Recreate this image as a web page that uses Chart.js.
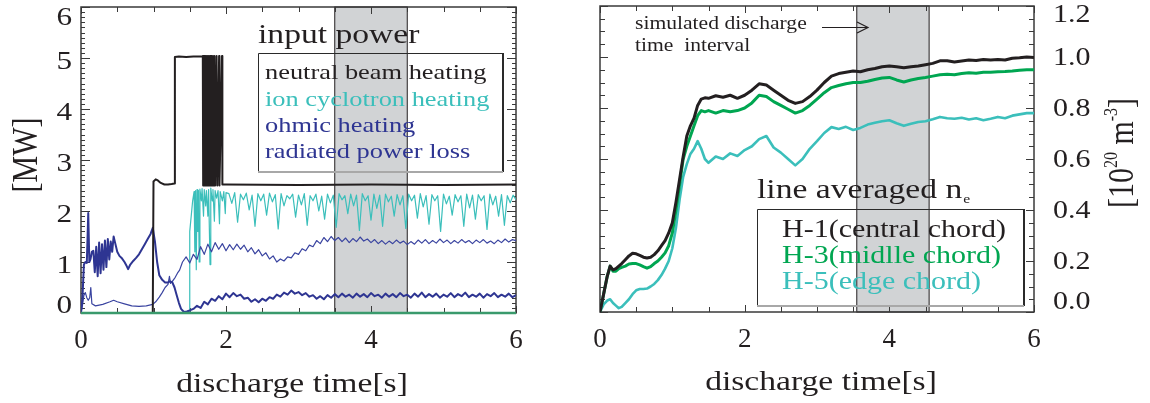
<!DOCTYPE html>
<html><head><meta charset="utf-8">
<script src="https://cdn.jsdelivr.net/npm/chart.js@4.4.1/dist/chart.umd.min.js"></script>
<style>
html,body{margin:0;padding:0;background:#fff;width:1150px;height:403px;overflow:hidden}
#c1{position:absolute;left:0;top:0;width:560px;height:403px}
#c2{position:absolute;left:560px;top:0;width:590px;height:403px}
</style></head><body>
<canvas id="c1" width="560" height="403"></canvas>
<canvas id="c2" width="590" height="403"></canvas>
<script>
// ---------------- LEFT PANEL DATA (input power, MW) ----------------
const leftXTicks = [0, 2, 4, 6];
const leftYTicks = [0, 1, 2, 3, 4, 5, 6];
const leftBand = [3.5, 4.5];
const leftLegend = ['neutral beam heating', 'ion cyclotron heating', 'ohmic heating', 'radiated power loss'];

const baseT = [0, 6];
const baseV = [0, 0];

const nbT = [0, 0.99, 1.0, 1.03, 1.06, 1.1, 1.15, 1.2, 1.25, 1.29, 1.295, 1.35, 1.45, 1.55, 1.67,
  1.68, 1.685, 1.69, 1.695, 1.70, 1.705, 1.71, 1.715, 1.72, 1.727, 1.735, 1.742, 1.75, 1.757, 1.765, 1.772,
  1.78, 1.79, 1.80, 1.81, 1.82, 1.83, 1.84, 1.85, 1.87, 1.88, 1.905, 1.91, 1.945, 1.95, 2.0, 3.0, 4.0, 5.0, 6.0];
const nbV = [0, 0, 2.58, 2.62, 2.6, 2.55, 2.52, 2.52, 2.53, 2.54, 5.02, 5.03, 5.02, 5.03, 5.03,
  5.04, 2.5, 5.04, 2.5, 5.04, 2.5, 5.04, 2.5, 5.04, 2.5, 5.04, 2.5, 5.04, 2.5, 5.04, 2.5,
  5.04, 2.5, 5.04, 2.5, 5.04, 2.5, 5.04, 2.5, 5.04, 2.5, 5.04, 2.5, 5.04, 2.52, 2.52, 2.51, 2.52, 2.51, 2.52];

const icT = [0, 1.495, 1.5, 1.52, 1.54, 1.56, 1.57, 1.58, 1.59, 1.6, 1.61, 1.62, 1.63, 1.64, 1.66, 1.67, 1.69, 1.7,
  1.72, 1.73, 1.75, 1.76, 1.78, 1.79, 1.81, 1.82, 1.84, 1.85, 1.87, 1.89, 1.91, 1.92, 1.95, 1.97, 1.99, 2.0,
  2.04,2.08,2.12,2.16,2.2,2.24,2.28,2.32,2.36,2.4,2.44,2.48,2.52,2.56,2.6,2.64,2.68,2.72,2.76,2.8,
  2.84,2.88,2.92,2.96,3.0,3.04,3.08,3.12,3.16,3.2,3.24,3.28,3.32,3.36,3.4,3.44,3.48,3.52,3.56,3.6,
  3.64,3.68,3.72,3.76,3.8,3.84,3.88,3.92,3.96,4.0,4.04,4.08,4.12,4.16,4.2,4.24,4.28,4.32,4.36,4.4,
  4.44,4.48,4.52,4.56,4.6,4.64,4.68,4.72,4.76,4.8,4.84,4.88,4.92,4.96,5.0,5.04,5.08,5.12,5.16,5.2,
  5.24,5.28,5.32,5.36,5.4,5.44,5.48,5.52,5.56,5.6,5.64,5.68,5.72,5.76,5.8,5.84,5.88,5.92,5.96,6.0];
const icV = [0, 0, 1.6, 1.9, 2.2, 2.38, 1.2, 2.4, 0.85, 2.42, 1.6, 2.4, 1.0, 2.43, 2.2, 2.44, 1.9, 2.42,
  2.1, 2.4, 1.9, 2.42, 0.95, 2.45, 2.2, 2.42, 1.8, 2.4, 2.25, 2.4, 1.75, 2.38, 2.2, 2.38, 1.95, 2.36,
  2.34,2.15,2.36,1.78,2.33,2.22,2.35,2.02,2.31,1.7,2.34,2.2,2.33,1.92,2.35,2.18,2.32,1.65,2.34,2.1,
  2.3,2.24,2.33,1.88,2.31,2.12,2.34,1.72,2.3,2.2,2.33,2.0,2.29,1.84,2.33,2.16,2.31,1.68,2.34,2.22,
  2.3,1.95,2.33,2.1,2.31,1.62,2.34,2.2,2.3,1.82,2.33,2.05,2.31,1.7,2.33,2.18,2.29,1.9,2.32,2.12,
  2.3,1.66,2.33,2.2,2.31,1.86,2.34,2.08,2.3,1.74,2.32,2.2,2.3,1.6,2.33,2.14,2.29,1.92,2.32,2.18,
  2.3,1.7,2.33,2.06,2.31,1.84,2.32,2.2,2.3,1.64,2.33,2.12,2.29,1.9,2.32,1.72,2.3,2.16,2.31,2.22];

const ohEarlyT = [0,0.02,0.04,0.06,0.08,0.1,0.115,0.13,0.15,0.17,0.19,0.21,0.23,0.25,0.27,0.29,0.31,0.33,0.35,0.37,
  0.39,0.41,0.43,0.45,0.47,0.5,0.53,0.56,0.6,0.63,0.65,0.68,0.72,0.76,0.8,0.84,0.88,0.92,0.96,0.99,
  1.02,1.05,1.08,1.12,1.16,1.2,1.23,1.26,1.29,1.32,1.35,1.38,1.42,1.46,1.5];
const ohEarlyV = [0,0.3,0.95,1.0,0.98,1.96,1.0,1.05,1.2,1.22,0.8,1.3,0.72,1.38,0.78,1.35,0.85,1.42,0.9,1.45,
  1.05,1.4,1.2,1.5,1.38,1.2,1.12,1.08,1.0,0.92,0.86,0.95,1.02,1.08,1.15,1.25,1.35,1.45,1.55,1.67,
  1.4,1.0,0.74,0.65,0.6,0.6,0.62,0.6,0.5,0.35,0.2,0.08,0.02,0.03,0.05];

const radEarlyT = [0,0.02,0.04,0.06,0.08,0.1,0.12,0.135,0.15,0.2,0.3,0.4,0.45,0.5,0.6,0.7,0.8,0.9,0.99,
  1.03,1.08,1.12,1.16,1.2,1.22,1.235,1.26,1.3,1.33,1.36,1.4,1.45,1.5];
const radEarlyV = [0,0.15,0.35,0.4,0.3,0.25,0.3,0.5,0.18,0.14,0.17,0.22,0.25,0.22,0.18,0.14,0.13,0.14,0.17,
  0.22,0.31,0.4,0.5,0.56,0.72,0.58,0.62,0.7,0.78,0.84,1.0,1.1,0.98];

const lateT = [1.55,1.6,1.65,1.7,1.75,1.8,1.85,1.9,1.95,2.0, 2.05,2.1,2.15,2.2,2.25,2.3,2.35,2.4,2.45,2.5,
  2.55,2.6,2.65,2.7,2.75,2.8,2.85,2.9,2.95,3.0, 3.05,3.1,3.15,3.2,3.25,3.3,3.35,3.4,3.45,3.5,
  3.55,3.6,3.65,3.7,3.75,3.8,3.85,3.9,3.95,4.0, 4.05,4.1,4.15,4.2,4.25,4.3,4.35,4.4,4.45,4.5,
  4.55,4.6,4.65,4.7,4.75,4.8,4.85,4.9,4.95,5.0, 5.05,5.1,5.15,5.2,5.25,5.3,5.35,5.4,5.45,5.5,
  5.55,5.6,5.65,5.7,5.75,5.8,5.85,5.9,5.95,6.0];
const ohLateV = [0.08,0.14,0.1,0.22,0.17,0.28,0.24,0.33,0.27,0.38, 0.31,0.39,0.33,0.36,0.28,0.3,0.22,0.27,0.21,0.28,
  0.24,0.31,0.28,0.36,0.32,0.4,0.36,0.44,0.38,0.41, 0.35,0.39,0.32,0.35,0.28,0.33,0.27,0.35,0.3,0.37,
  0.31,0.38,0.32,0.36,0.3,0.38,0.32,0.37,0.31,0.39, 0.33,0.36,0.3,0.38,0.32,0.37,0.31,0.39,0.33,0.36,
  0.3,0.38,0.32,0.4,0.31,0.37,0.32,0.38,0.3,0.36, 0.32,0.39,0.31,0.37,0.33,0.4,0.31,0.36,0.32,0.38,
  0.3,0.37,0.33,0.39,0.31,0.36,0.32,0.38,0.31,0.35];
const radLateV = [1.15,1.05,1.3,1.15,1.35,1.2,1.38,1.25,1.36,1.22, 1.34,1.24,1.35,1.25,1.33,1.2,1.28,1.16,1.24,1.12,
  1.18,1.06,1.12,1.0,1.06,1.02,1.1,1.08,1.18,1.15, 1.26,1.22,1.33,1.3,1.42,1.36,1.48,1.4,1.5,1.42,
  1.48,1.4,1.47,1.38,1.46,1.4,1.49,1.41,1.45,1.38, 1.44,1.36,1.42,1.35,1.41,1.36,1.43,1.37,1.41,1.34,
  1.4,1.35,1.43,1.37,1.44,1.36,1.42,1.37,1.45,1.38, 1.43,1.36,1.42,1.37,1.44,1.38,1.42,1.36,1.43,1.38,
  1.44,1.37,1.41,1.36,1.43,1.38,1.45,1.39,1.44,1.42];

// ---------------- RIGHT PANEL DATA (line averaged density, 1e20 m^-3) ----------------
const rightXTicks = [0, 2, 4, 6];
const rightYTicks = [0.0, 0.2, 0.4, 0.6, 0.8, 1.0, 1.2];
const rightBand = [3.55, 4.55];
const rightLegend = ['H-1(central chord)', 'H-3(midlle chord)', 'H-5(edge chord)'];

const rT = [0,0.05,0.1,0.14,0.18,0.22,0.26,0.3,
  0.35,0.4,0.45,0.5,0.55,0.6,0.65,0.7,0.75,0.8,0.85,0.9,0.95,1.0,1.05,1.1,1.15,1.2,1.25,1.3,1.35,1.4,1.45,1.5,
  1.6,1.7,1.8,1.9,2.0,2.1,2.2,2.3,2.4,2.5,2.6,2.7,2.8,2.9,3.0,3.1,3.2,3.3,3.4,3.5,3.6,3.7,3.8,3.9,
  4.0,4.1,4.2,4.3,4.4,4.5,4.6,4.7,4.8,4.9,5.0,5.1,5.2,5.3,5.4,5.5,5.6,5.7,5.8,5.9,6.0];
const h1V = [0,0.07,0.14,0.18,0.165,0.17,0.18,0.19,
  0.205,0.22,0.23,0.228,0.222,0.215,0.212,0.215,0.225,0.24,0.26,0.28,0.31,0.35,0.43,0.52,0.61,0.69,0.73,0.76,0.81,0.835,0.84,0.838,
  0.848,0.842,0.85,0.838,0.85,0.87,0.895,0.89,0.87,0.85,0.83,0.818,0.825,0.845,0.87,0.9,0.925,0.935,0.94,0.945,0.942,0.95,0.955,0.962,
  0.965,0.962,0.958,0.962,0.965,0.97,0.975,0.985,0.985,0.98,0.984,0.988,0.986,0.99,0.988,0.99,0.988,0.995,0.997,1.0,0.998];
const h3V = [0,0.07,0.14,0.18,0.16,0.16,0.17,0.175,
  0.18,0.188,0.19,0.19,0.185,0.178,0.172,0.178,0.19,0.2,0.215,0.232,0.26,0.31,0.4,0.5,0.6,0.65,0.69,0.73,0.77,0.79,0.785,0.79,
  0.78,0.79,0.785,0.79,0.8,0.82,0.85,0.845,0.825,0.81,0.795,0.78,0.79,0.81,0.835,0.86,0.88,0.888,0.895,0.9,0.9,0.905,0.912,0.918,
  0.92,0.91,0.902,0.91,0.916,0.92,0.925,0.93,0.932,0.93,0.935,0.938,0.936,0.94,0.94,0.942,0.943,0.945,0.948,0.95,0.95];
const h5V = [0,0.03,0.045,0.05,0.035,0.025,0.015,0.02,
  0.035,0.05,0.07,0.085,0.09,0.09,0.092,0.1,0.11,0.125,0.145,0.17,0.2,0.25,0.33,0.44,0.53,0.58,0.62,0.64,0.67,0.64,0.6,0.585,
  0.61,0.6,0.622,0.612,0.635,0.65,0.678,0.69,0.645,0.625,0.6,0.575,0.6,0.64,0.67,0.702,0.725,0.718,0.726,0.714,0.722,0.735,0.742,0.748,
  0.752,0.74,0.73,0.738,0.745,0.748,0.756,0.765,0.76,0.758,0.762,0.755,0.76,0.752,0.758,0.765,0.76,0.77,0.775,0.78,0.78];

// ---------------- helpers ----------------
const SERIF = '"Liberation Serif", "Times New Roman", Times, serif';
const SX = 1.2;
const INK = '#231f20';
const COL = { black: '#231f20', cyan: '#3bbfbb', blue: '#2e3592', blue2: '#3a44a0', green: '#00a651', base: '#3a9a6c' };

function pts(ts, vs) { return ts.map((t, i) => ({ x: t, y: vs[i] })); }

function txt(ctx, s, x, y, size, color, align) {
  ctx.save();
  ctx.font = size + 'px ' + SERIF;
  ctx.fillStyle = color;
  ctx.textAlign = align || 'left';
  ctx.textBaseline = 'alphabetic';
  ctx.translate(x, y);
  ctx.scale(SX, 1);
  ctx.fillText(s, 0, 0);
  ctx.restore();
}

function rotText(ctx, pieces, bx, cy) {
  ctx.save();
  ctx.translate(bx, cy);
  ctx.rotate(-Math.PI / 2);
  ctx.scale(1, SX);
  ctx.fillStyle = INK;
  ctx.textBaseline = 'alphabetic';
  ctx.textAlign = 'left';
  let total = 0;
  pieces.forEach(p => { ctx.font = p[1] + 'px ' + SERIF; total += ctx.measureText(p[0]).width; });
  let x = -total / 2;
  pieces.forEach(p => { ctx.font = p[1] + 'px ' + SERIF; ctx.fillText(p[0], x, p[2]); x += ctx.measureText(p[0]).width; });
  ctx.restore();
}

function drawBand(chart, band) {
  const { ctx, chartArea: a, scales: { x } } = chart;
  const x1 = x.getPixelForValue(band[0]), x2 = x.getPixelForValue(band[1]);
  ctx.save();
  ctx.fillStyle = '#d1d3d5';
  ctx.fillRect(x1, a.top, x2 - x1, a.bottom - a.top);
  ctx.strokeStyle = '#231f20';
  ctx.lineWidth = 1;
  ctx.strokeRect(x1, a.top, x2 - x1, a.bottom - a.top);
  ctx.restore();
}

function drawFrame(chart, c) {
  const { ctx, chartArea: a, scales: { x, y } } = chart;
  ctx.save();
  ctx.strokeStyle = '#3a3a3a';
  ctx.lineWidth = 1;
  ctx.beginPath();
  const nx = Math.round((x.max - x.min) / c.xMinor);
  for (let i = 0; i <= nx; i++) {
    const v = x.min + i * c.xMinor;
    const px = Math.round(x.getPixelForValue(v)) + 0.5;
    const L = (i % c.xMajEvery === 0) ? c.xMajLen : c.xMinLen;
    ctx.moveTo(px, a.bottom); ctx.lineTo(px, a.bottom - L);
    ctx.moveTo(px, a.top); ctx.lineTo(px, a.top + L);
  }
  const ny = Math.round((y.max - y.min) / c.yMinor);
  for (let i = 0; i <= ny; i++) {
    const v = y.min + i * c.yMinor;
    const py = Math.round(y.getPixelForValue(v)) + 0.5;
    const L = (i % c.yMajEvery === 0) ? c.yMajLen : c.yMinLen;
    ctx.moveTo(a.left, py); ctx.lineTo(a.left + L, py);
    ctx.moveTo(a.right, py); ctx.lineTo(a.right - L, py);
  }
  ctx.stroke();
  ctx.lineWidth = 1.5;
  ctx.strokeStyle = '#3a3a3a';
  ctx.strokeRect(a.left, a.top, a.right - a.left, a.bottom - a.top);
  y.ticks.forEach(t => {
    let cy = y.getPixelForValue(t.value) + c.labOff;
    cy = Math.min(Math.max(cy, c.labMin), c.labMax);
    txt(ctx, c.fmt(t.value), c.labX, cy + 8.5, c.labSize, INK, c.labAlign);
  });
  ctx.restore();
}

function legendBox(ctx, l, t, r, b) {
  ctx.save();
  ctx.lineWidth = 1;
  ctx.strokeStyle = '#2a2a2a';
  ctx.beginPath();
  ctx.moveTo(l + 0.5, b); ctx.lineTo(l + 0.5, t + 0.5); ctx.lineTo(r, t + 0.5);
  ctx.stroke();
  ctx.lineWidth = 2;
  ctx.beginPath(); ctx.moveTo(r, t); ctx.lineTo(r, b); ctx.stroke();
  ctx.strokeStyle = '#a8a8a8';
  ctx.beginPath(); ctx.moveTo(l, b); ctx.lineTo(r, b); ctx.stroke();
  ctx.restore();
}

function baseOpts(c) {
  return {
    responsive: false, animation: false, events: [], devicePixelRatio: 1,
    layout: { padding: c.pad },
    plugins: { legend: { display: false }, tooltip: { enabled: false } },
    elements: { point: { radius: 0 }, line: { tension: 0, borderJoinStyle: 'round', borderCapStyle: 'butt' } },
    scales: {
      x: {
        type: 'linear', min: 0, max: 6,
        grid: { display: false, drawTicks: false }, border: { display: false },
        afterBuildTicks: s => { s.ticks = c.xTicks.map(v => ({ value: v })); },
        ticks: { padding: 12, color: INK, font: { family: SERIF, size: 27 }, maxRotation: 0, autoSkip: false },
        afterFit: s => { s.height = c.xh; }
      },
      y: {
        type: 'linear', position: c.ypos, min: c.ymin, max: c.ymax,
        grid: { display: false, drawTicks: false }, border: { display: false },
        afterBuildTicks: s => { s.ticks = c.yTicks.map(v => ({ value: v })); },
        ticks: { display: false },
        afterFit: s => { s.width = c.yw; }
      }
    }
  };
}

const leftFrameCfg = { xMinor: 0.5, xMajEvery: 4, xMajLen: 7, xMinLen: 5, yMinor: 0.1, yMajEvery: 10, yMajLen: 9, yMinLen: 4,
  labOff: 2, labMin: 16, labMax: 304, labX: 72, labSize: 26, labAlign: 'right', fmt: v => String(v) };
const rightFrameCfg = { xMinor: 0.5, xMajEvery: 4, xMajLen: 7, xMinLen: 5, yMinor: 0.05, yMajEvery: 4, yMajLen: 8, yMinLen: 5,
  labOff: -1, labMin: 13, labMax: 300, labX: 493, labSize: 25, labAlign: 'left', fmt: v => v.toFixed(1) };

// ---------------- LEFT CHART ----------------
const leftPlugin = {
  id: 'leftDeco',
  beforeDatasetsDraw(chart) { drawBand(chart, leftBand); drawFrame(chart, leftFrameCfg); },
  afterDatasetsDraw(chart) {
    const ctx = chart.ctx;
    txt(ctx, 'input power', 258, 43, 28, INK);
    legendBox(ctx, 258, 53, 503, 172);
    const cols = [COL.black, COL.cyan, COL.blue, COL.blue];
    const ys = [79, 106, 132, 158];
    leftLegend.forEach((s, i) => txt(ctx, s, 265, ys[i], 22, cols[i]));
  },
  afterDraw(chart) {
    const ctx = chart.ctx;
    txt(ctx, 'discharge time[s]', 292, 392, 28, INK, 'center');
    rotText(ctx, [['[MW]', 30, 0]], 37, 155);
  }
};

const leftOpts = baseOpts({ pad: { top: 7, right: 44, left: 0, bottom: 0 }, xh: 90, yw: 81, ypos: 'left', ymin: 0, ymax: 6,
  xTicks: leftXTicks, yTicks: leftYTicks });

new Chart(document.getElementById('c1'), {
  type: 'line',
  data: {
    datasets: [
      { label: 'zero', data: pts(baseT, baseV), borderColor: COL.base, borderWidth: 2.5, clip: 4 },
      { label: leftLegend[0], data: pts(nbT, nbV), borderColor: COL.black, borderWidth: 2 },
      { label: leftLegend[2], data: pts(ohEarlyT.concat(lateT), ohEarlyV.concat(ohLateV)), borderColor: COL.blue, borderWidth: 2 },
      { label: leftLegend[3], data: pts(radEarlyT.concat(lateT), radEarlyV.concat(radLateV)), borderColor: COL.blue2, borderWidth: 1.2 },
      { label: leftLegend[1], data: pts(icT, icV), borderColor: COL.cyan, borderWidth: 1.2 }
    ]
  },
  options: leftOpts,
  plugins: [leftPlugin]
});

// ---------------- RIGHT CHART ----------------
const rightPlugin = {
  id: 'rightDeco',
  beforeDatasetsDraw(chart) { drawBand(chart, rightBand); drawFrame(chart, rightFrameCfg); },
  afterDatasetsDraw(chart) {
    const ctx = chart.ctx;
    txt(ctx, 'simulated discharge', 75, 29, 18, INK);
    txt(ctx, 'time  interval', 75, 51, 18, INK);
    ctx.save();
    ctx.strokeStyle = INK; ctx.lineWidth = 1.2;
    ctx.beginPath(); ctx.moveTo(262, 27.5); ctx.lineTo(307, 27.5); ctx.stroke();
    ctx.beginPath(); ctx.moveTo(297, 22); ctx.lineTo(308, 27.5); ctx.lineTo(297, 33); ctx.stroke();
    ctx.restore();
    txt(ctx, 'line averaged n', 197, 198, 28, INK);
    ctx.save(); ctx.font = '28px ' + SERIF;
    const w = ctx.measureText('line averaged n').width * SX; ctx.restore();
    txt(ctx, 'e', 197 + w + 1, 203, 13, INK);
    legendBox(ctx, 197, 209, 464, 306);
    const cols = [COL.black, COL.green, COL.cyan];
    const ys = [237, 263, 289];
    rightLegend.forEach((s, i) => txt(ctx, s, 222, ys[i], 25, cols[i]));
  },
  afterDraw(chart) {
    const ctx = chart.ctx;
    txt(ctx, 'discharge time[s]', 261, 390, 28, INK, 'center');
    rotText(ctx, [['[10', 30, 0], ['20', 16, -13], [' m', 30, 0], ['-3', 16, -13], [']', 30, 0]], 573, 153);
  }
};

const rightOpts = baseOpts({ pad: { top: 6, right: 0, left: 40, bottom: 0 }, xh: 91, yw: 116, ypos: 'right', ymin: 0, ymax: 1.2,
  xTicks: rightXTicks, yTicks: rightYTicks });

new Chart(document.getElementById('c2'), {
  type: 'line',
  data: {
    datasets: [
      { label: rightLegend[0], data: pts(rT, h1V), borderColor: COL.black, borderWidth: 3 },
      { label: rightLegend[1], data: pts(rT, h3V), borderColor: COL.green, borderWidth: 3 },
      { label: rightLegend[2], data: pts(rT, h5V), borderColor: COL.cyan, borderWidth: 2.6 }
    ]
  },
  options: rightOpts,
  plugins: [rightPlugin]
});
</script>
</body></html>
